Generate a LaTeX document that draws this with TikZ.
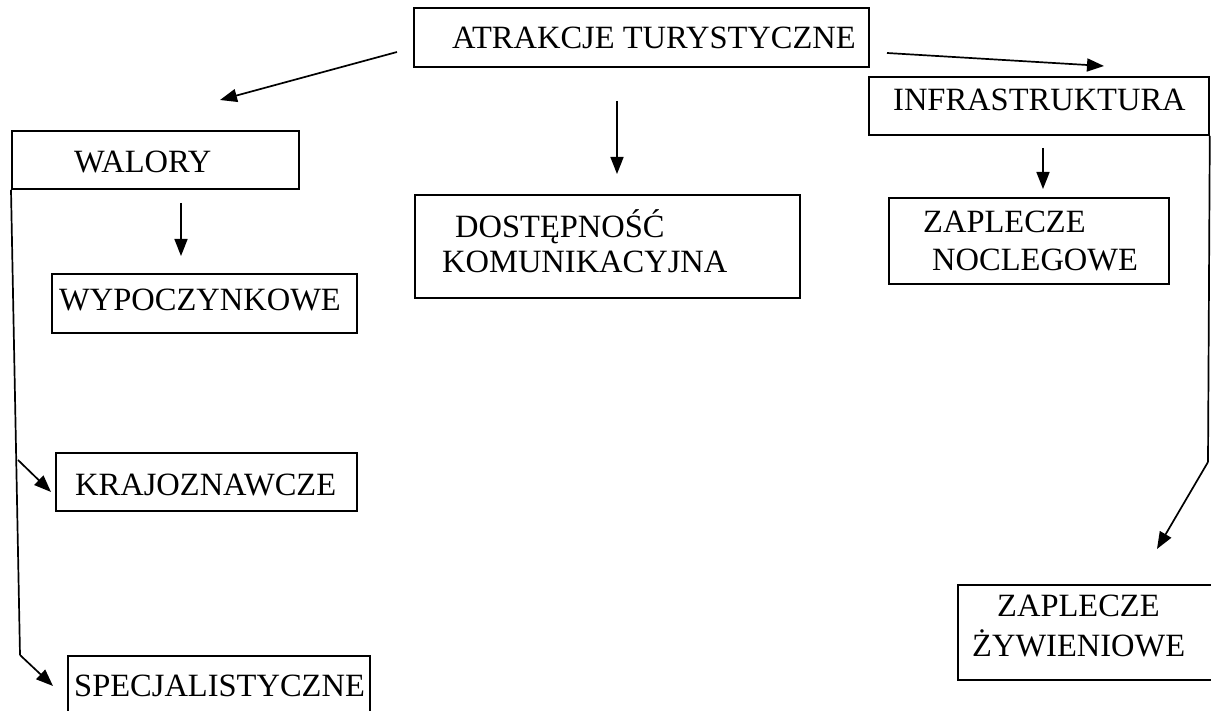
\documentclass[tikz,border=0pt]{standalone}
\usepackage{fontspec}
\setmainfont{Liberation Serif}
\usetikzlibrary{arrows.meta}
\begin{document}
\begin{tikzpicture}[x=1pt,y=-1pt,
  boxnode/.style={draw, line width=1.8pt, rectangle, anchor=north west, inner sep=0pt},
  lbl/.style={anchor=base west, inner sep=0pt, font=\fontsize{32.5}{37}\selectfont},
  conn/.style={line width=1.7pt},
  arr/.style={line width=1.7pt, -{Triangle[length=17pt,width=13pt]}}]
\useasboundingbox (0,0) rectangle (1211,711);
\clip (0,0) rectangle (1211,711);
\fill[white] (0,0) rectangle (1211,711);
% boxes
\node[boxnode, minimum width=455pt, minimum height=59pt] (atr) at (413,7) {};
\node[boxnode, minimum width=287pt, minimum height=58pt] (wal) at (11,130) {};
\node[boxnode, minimum width=340pt, minimum height=58pt] (inf) at (868,76) {};
\node[boxnode, minimum width=305pt, minimum height=59pt] (wyp) at (51,273) {};
\node[boxnode, minimum width=385pt, minimum height=103pt] (dos) at (414,194) {};
\node[boxnode, minimum width=280pt, minimum height=86pt] (noc) at (888,197) {};
\node[boxnode, minimum width=301pt, minimum height=58pt] (kra) at (55,452) {};
\node[boxnode, minimum width=302pt, minimum height=70pt] (spe) at (67,655) {};
\node[boxnode, minimum width=270pt, minimum height=95pt] (zyw) at (957,584) {};
% texts
\node[lbl] (tatr) at (452,49) {ATRAKCJE TURYSTYCZNE};
\node[lbl] (twal) at (74,173) {WALORY};
\node[lbl] (tinf) at (893,111) {INFRASTRUKTURA};
\node[lbl] (twyp) at (59,311) {WYPOCZYNKOWE};
\node[lbl] (tdos1) at (455,238) {DOSTĘPNOŚĆ};
\node[lbl] (tdos2) at (442,273) {KOMUNIKACYJNA};
\node[lbl] (tnoc1) at (923,233) {ZAPLECZE};
\node[lbl] (tnoc2) at (932,271) {NOCLEGOWE};
\node[lbl] (tkra) at (75,495) {KRAJOZNAWCZE};
\node[lbl] (tspe) at (74,696) {SPECJALISTYCZNE};
\node[lbl] (tzyw1) at (997,616) {ZAPLECZE};
\node[lbl] (tzyw2) at (972,656) {ŻYWIENIOWE};
% connector coordinates
\coordinate (a1s) at (397,52);
\coordinate (a1e) at (220,100);
\coordinate (a2s) at (887,53);
\coordinate (a2e) at (1104,66);
\coordinate (a3s) at (617,101);
\coordinate (a3e) at (617,174);
\coordinate (a4s) at (181,203);
\coordinate (a4e) at (181,256);
\coordinate (a5s) at (1043,148);
\coordinate (a5e) at (1043,189);
\coordinate (lb1) at (18,460);
\coordinate (lb1e) at (51,492);
\coordinate (lb2) at (20,655);
\coordinate (lb2e) at (53,686);
\coordinate (rb) at (1208,462);
\coordinate (rbe) at (1157,549);
% connectors
\draw[arr] (a1s) -- (a1e);
\draw[arr] (a2s) -- (a2e);
\draw[arr] (a3s) -- (a3e);
\draw[arr] (a4s) -- (a4e);
\draw[arr] (a5s) -- (a5e);
\draw[conn] (wal.south west) -- (lb2);
\draw[arr] (lb2) -- (lb2e);
\draw[arr] (lb1) -- (lb1e);
\draw[conn] (inf.south east) -- (rb);
\draw[arr] (rb) -- (rbe);
\end{tikzpicture}
\end{document}
